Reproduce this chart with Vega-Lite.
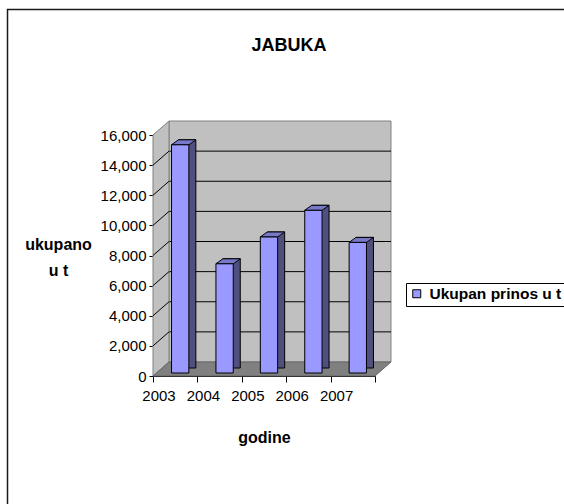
{
  "$schema": "https://vega.github.io/schema/vega-lite/v6.json",
  "width": 222,
  "height": 241,
  "autosize": "none",
  "padding": {"left": 153, "top": 135, "right": 189, "bottom": 128},
  "background": "#ffffff",
  "title": {"text": "JABUKA", "font": "Liberation Sans", "fontSize": 18, "fontWeight": "bold", "color": "#000000", "anchor": "middle", "dx": 25, "offset": -62, "baseline": "alphabetic"},
  "datasets": {
    "prinos": [
      {"godina": "2003", "prinos": 15150},
      {"godina": "2004", "prinos": 7250},
      {"godina": "2005", "prinos": 9030},
      {"godina": "2006", "prinos": 10800},
      {"godina": "2007", "prinos": 8670}
    ],
    "mreza": [{"v": 2000}, {"v": 4000}, {"v": 6000}, {"v": 8000}, {"v": 10000}, {"v": 12000}, {"v": 14000}],
    "okvir": [{"dio": "zid"}]
  },
  "config": {
    "view": {"stroke": null},
    "font": "Liberation Sans",
    "axis": {"domainColor": "#000000", "domainWidth": 1, "tickColor": "#000000", "labelColor": "#000000", "labelFont": "Liberation Sans", "labelFontSize": 15, "labelOverlap": false, "titleFont": "Liberation Sans", "titleFontSize": 16, "titleFontWeight": "bold", "titleColor": "#000000", "grid": false, "zindex": 1},
    "legend": {"orient": "none", "legendX": 253, "legendY": 148, "strokeColor": "#000000", "fillColor": "#ffffff", "padding": 3, "symbolType": "square", "symbolSize": 64, "symbolStrokeColor": "#000000", "symbolStrokeWidth": 1, "labelFont": "Liberation Sans", "labelFontSize": 15.5, "labelFontWeight": "bold", "labelColor": "#000000", "labelOffset": 5, "labelLimit": 0}
  },
  "layer": [
    {
      "data": {"name": "okvir"},
      "mark": {"type": "point", "shape": "M-0.7544,0.8368L-0.7544,-0.7235L0.988,-0.7235", "size": 462400, "filled": false, "stroke": "#1a1a1a", "strokeWidth": 1.5, "opacity": 1},
      "encoding": {"x": {"datum": "2005"}, "y": {"datum": 8000, "type": "quantitative"}}
    },
    {
      "data": {"name": "okvir"},
      "mark": {"type": "point", "shape": "M-0.7037,-0.9963L0.9407,-0.9963L0.9407,0.7889L-0.7037,0.7889Z", "size": 72900, "filled": true, "fill": "#c0c0c0", "stroke": "#808080", "strokeWidth": 1, "opacity": 1},
      "encoding": {"x": {"datum": "2005"}, "y": {"datum": 8000, "type": "quantitative"}}
    },
    {
      "data": {"name": "mreza"},
      "mark": {"type": "point", "shape": "M-0.748,-0.1102L1,-0.1102", "size": 64516, "filled": false, "stroke": "#000000", "strokeWidth": 1, "opacity": 1},
      "encoding": {"x": {"datum": "2005"}, "y": {"field": "v", "type": "quantitative"}}
    },
    {
      "data": {"name": "okvir"},
      "mark": {"type": "point", "shape": "M-0.1644,-0.8926L-0.0459,-0.9963L-0.0459,0.7889L-0.1644,0.8926Z", "size": 72900, "filled": true, "fill": "#c0c0c0", "stroke": "#808080", "strokeWidth": 1, "opacity": 1},
      "encoding": {"x": {"datum": "2003"}, "y": {"datum": 8000, "type": "quantitative"}}
    },
    {
      "data": {"name": "okvir"},
      "mark": {"type": "point", "shape": "M-0.874,0L0.874,0L1,-0.1102L-0.748,-0.1102Z", "size": 64516, "filled": true, "fill": "#808080", "stroke": "#666666", "strokeWidth": 1, "opacity": 1},
      "encoding": {"x": {"datum": "2005"}, "y": {"datum": 0, "type": "quantitative"}}
    },
    {
      "data": {"name": "mreza"},
      "mark": {"type": "point", "shape": "M-1,0L-0.2793,-0.6306", "size": 1971.36, "filled": false, "stroke": "#000000", "strokeWidth": 1, "opacity": 1},
      "encoding": {"x": {"datum": "2003"}, "y": {"field": "v", "type": "quantitative"}}
    },
    {
      "data": {"name": "prinos"},
      "mark": {"type": "bar", "width": {"band": 0.39}, "xOffset": 12, "yOffset": -8, "y2Offset": -8, "fill": "#50507f", "stroke": "#000000", "strokeWidth": 1},
      "encoding": {
        "x": {"field": "godina", "type": "ordinal", "scale": {"domain": ["2003", "2004", "2005", "2006", "2007"], "paddingInner": 0, "paddingOuter": 0}},
        "y": {"field": "prinos", "type": "quantitative"},
        "y2": {"datum": 0}
      }
    },
    {
      "data": {"name": "prinos"},
      "mark": {"type": "point", "shape": "M-0.547,0L0.547,0L0.984,-0.3125L-0.109,-0.3125Z", "size": 1024, "filled": true, "fill": "#7878c8", "stroke": "#000000", "strokeWidth": 1, "opacity": 1, "xOffset": 5, "yOffset": -3},
      "encoding": {
        "x": {"field": "godina", "type": "ordinal"},
        "y": {"field": "prinos", "type": "quantitative"}
      }
    },
    {
      "data": {"name": "prinos"},
      "mark": {"type": "bar", "width": {"band": 0.39}, "xOffset": 5, "yOffset": -3, "y2Offset": -3, "stroke": "#000000", "strokeWidth": 1},
      "encoding": {
        "x": {"field": "godina", "type": "ordinal", "axis": {"labelAngle": 0, "tickBand": "extent", "tickSize": 6, "labelPadding": 13, "title": "godine", "titleY": 66, "titleBaseline": "alphabetic"}},
        "y": {"field": "prinos", "type": "quantitative", "scale": {"domain": [0, 16000], "nice": false}, "axis": {"values": [0, 2000, 4000, 6000, 8000, 10000, 12000, 14000, 16000], "tickCount": 10, "format": ",d", "tickSize": 4, "labelPadding": 3, "title": ["ukupano", "u t"], "titleAngle": 0, "titleAlign": "center", "titleBaseline": "alphabetic", "titleX": -95, "titleY": 114, "titleLineHeight": 26}},
        "y2": {"datum": 0},
        "color": {"datum": "Ukupan prinos u t", "scale": {"range": ["#9999ff"]}, "legend": {"title": null}}
      }
    }
  ]
}
